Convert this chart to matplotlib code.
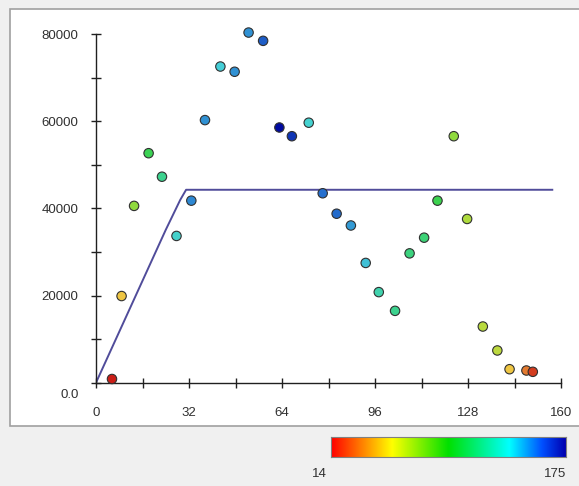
import matplotlib
matplotlib.use("Agg")
import matplotlib.pyplot as plt
from matplotlib.colors import LinearSegmentedColormap
from matplotlib.patches import Rectangle
import matplotlib.transforms as mtransforms
import numpy as np

# point data
x_vals = [5.5, 8.8, 13.1, 18.1, 22.7, 27.7, 32.8, 37.5, 42.8, 47.7, 52.5, 57.5,
          63.1, 67.4, 73.2, 78.0, 82.8, 87.7, 92.8, 97.3, 102.9, 107.9, 112.9,
          117.5, 123.1, 127.7, 133.1, 138.1, 142.3, 148.1, 150.3]
y_vals = [850, 19900, 40600, 52700, 47300, 33700, 41800, 60300, 72600, 71400,
          80400, 78500, 58600, 56600, 59700, 43500, 38800, 36100, 27500, 20800,
          16500, 29700, 33300, 41800, 56600, 37600, 12900, 7400, 3100, 2800, 2500]
c_vals = [16, 50, 80, 98, 112, 132, 152, 150, 137, 150, 150, 160, 175, 167, 134,
          157, 158, 148, 140, 122, 112, 108, 106, 97, 80, 74, 70, 69, 50, 34, 22]

# reference line
line_x = [0, 24, 29, 31, 157]
line_y = [0, 35100, 42000, 44300, 44300]

c_min, c_max = 14, 175
x_ticks = [0, 32, 64, 96, 128, 160]
y_ticks = [0, 20000, 40000, 60000, 80000]
y_labels = ["0.0", "20000", "40000", "60000", "80000"]

W, H = 579, 486
plt.rcParams["font.family"] = ["Liberation Sans", "DejaVu Sans"]

# bright scale for the colour bar
cmap = LinearSegmentedColormap.from_list(
    "bar",
    [(0.0, "#ff0000"), (0.13, "#ff8000"), (0.26, "#ffff00"), (0.5, "#00e000"),
     (0.76, "#00ffff"), (0.9, "#0050ff"), (1.0, "#0000b0")])
# the dots are drawn a little more muted
dot_cmap = LinearSegmentedColormap.from_list(
    "dots",
    [(0.0, "#c81414"), (0.13, "#e68232"), (0.24, "#f0d246"), (0.38, "#aadc3c"),
     (0.5, "#3cd246"), (0.62, "#3cd296"), (0.76, "#46d2d7"), (0.88, "#2878d2"),
     (1.0, "#000aa0")])

fig = plt.figure(figsize=(W / 100, H / 100), dpi=100, facecolor="#f0f0f0")

# white panel behind the plot
panel = Rectangle((10 / W, (H - 426) / H), 1.0, (426 - 9) / H,
                  transform=fig.transFigure, facecolor="white",
                  edgecolor="#a0a0a0", linewidth=1.2, zorder=-5)
fig.patches.append(panel)

ax = fig.add_axes([96 / W, (H - 382.7) / H, (561 - 96) / W, (382.7 - 34.3) / H])
ax.set_zorder(2)
ax.set_facecolor("none")
ax.set_xlim(0, 160)
ax.set_ylim(0, 80000)

ax.plot(line_x, line_y, color="#504c9a", linewidth=1.4, zorder=2)
ax.scatter(x_vals, y_vals, c=c_vals, cmap=dot_cmap, vmin=c_min, vmax=c_max,
           s=46, edgecolors="#303030", linewidths=0.8, zorder=3, clip_on=False)

for side in ["top", "right"]:
    ax.spines[side].set_visible(False)
for side in ["left", "bottom"]:
    ax.spines[side].set_color("#202020")
    ax.spines[side].set_linewidth(1.0)

ax.set_xticks(x_ticks)
ax.set_xticks(np.arange(0, 161, 16), minor=True)
ax.set_yticks(y_ticks)
ax.set_yticklabels(y_labels)
ax.set_yticks(np.arange(0, 80001, 10000), minor=True)
ax.tick_params(which="both", direction="inout", length=7, width=1.0,
               color="#202020", labelsize=9.5, labelcolor="#303030")
ax.tick_params(axis="x", which="major", pad=14)
ax.tick_params(axis="y", which="major", pad=9)

# the zero label sits a bit lower than its tick
zero_lbl = ax.get_yticklabels()[0]
zero_lbl.set_transform(zero_lbl.get_transform() +
                       mtransforms.ScaledTranslation(0, -11 / 100, fig.dpi_scale_trans))

# colour bar
cax = fig.add_axes([331 / W, (H - 457) / H, (566 - 331) / W, 20 / H])
cax.set_zorder(2)
grad = np.linspace(0, 1, 256).reshape(1, -1)
cax.imshow(grad, aspect="auto", cmap=cmap, extent=[c_min, c_max, 0, 1])
cax.set_xticks([])
cax.set_yticks([])
for s in cax.spines.values():
    s.set_color("#808080")
    s.set_linewidth(0.8)
fig.text(327 / W, (H - 474) / H, str(c_min), ha="right", va="center",
         fontsize=9.5, color="#303030")
fig.text(566 / W, (H - 474) / H, str(c_max), ha="right", va="center",
         fontsize=9.5, color="#303030")

fig.savefig("out.png", dpi=100, facecolor=fig.get_facecolor())
